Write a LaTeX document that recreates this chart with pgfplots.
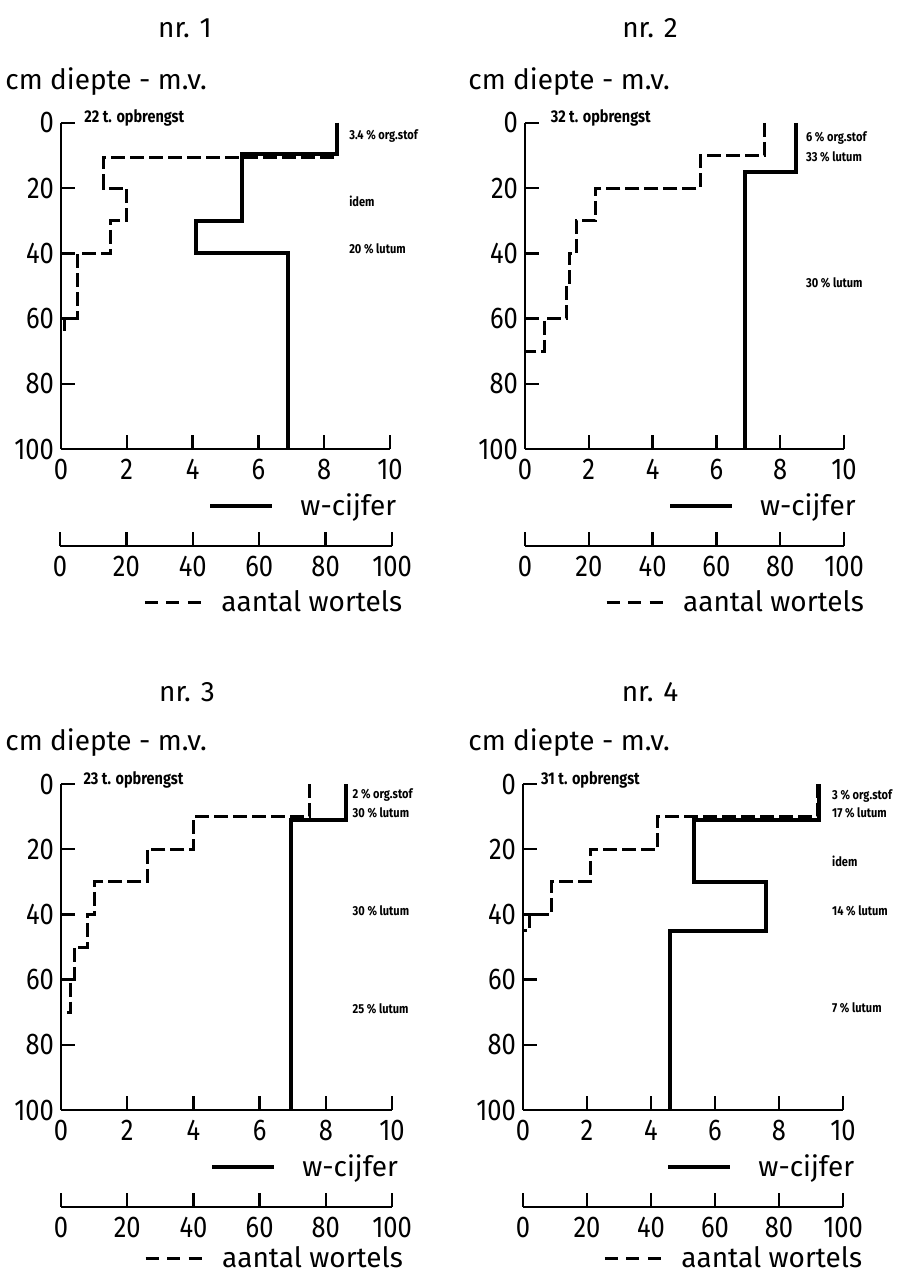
\documentclass[border=0pt]{standalone}
\usepackage{pgfplots}
\usepackage{pgfplotstable}
\pgfplotsset{compat=1.18}
\usepackage{fontspec}
\setmainfont{Fira Sans}[FakeStretch=0.85]
\newfontfamily\wide{Fira Sans}

\newcommand\ticksize{\fontsize{15}{15}\selectfont}
\newcommand\labelsize{\wide\fontsize{14}{15}\selectfont}

% w-cijfer profiles (w, depth in cm)
\pgfplotstableread{
w d
8.4 0
8.4 9.5
5.5 9.5
5.5 30
4.1 30
4.1 40
6.9 40
6.9 100
}\wA
\pgfplotstableread{
w d
8.5 0
8.5 15
6.9 15
6.9 100
}\wB
\pgfplotstableread{
w d
8.6 0
8.6 11
6.95 11
6.95 100
}\wC
\pgfplotstableread{
w d
9.25 0
9.25 11
5.35 11
5.35 30
7.6 30
7.6 45
4.6 45
4.6 100
}\wD

% aantal wortels (n, depth in cm)
\pgfplotstableread{
n d
84 0
84 10.5
13 10.5
13 20
20 20
20 30
15 30
15 40
5 40
5 60
1 60
1 65
}\nA
\pgfplotstableread{
n d
75 0
75 10
55 10
55 20
22 20
22 30
16 30
16 40
14 40
14 50
13 50
13 60
6 60
6 70
0 70
}\nB
\pgfplotstableread{
n d
75 0
75 10
40 10
40 20
26 20
26 30
10 30
10 40
8 40
8 50
4 50
4 60
3 60
3 70
1 70
}\nC
\pgfplotstableread{
n d
92 0
92 10
42 10
42 20
21 20
21 30
9 30
9 40
2 40
2 45
0 45
}\nD

\pgfplotsset{
  profile/.style={
    scale only axis, height=163pt,
    xmin=0, xmax=10, ymin=0, ymax=100, y dir=reverse,
    axis x line=bottom, axis y line=left,
    axis line style={-, line width=1.2pt},
    every tick/.style={black, line width=1.2pt},
    major tick length=7pt, tick align=inside,
    xtick={0,2,...,10}, ytick={0,20,...,100},
    tick label style={font=\ticksize},
    xticklabel style={yshift=-1.5pt},
    /pgf/number format/assume math mode=true,
    clip=false,
    legend style={draw=none, fill=none, inner sep=0pt, anchor=west,
      font=\labelsize, nodes={inner sep=0pt}},
    legend image code/.code={\draw[##1] (0pt,0pt) -- (31pt,0pt); \path (44pt,0pt);},
  },
  wortelaxis/.style={
    scale only axis, height=20pt,
    xmin=0, xmax=100, ymin=0, ymax=1,
    axis x line=bottom, axis y line=none,
    axis line style={-, line width=1.2pt},
    every tick/.style={black, line width=1.2pt},
    major tick length=7pt, tick align=inside,
    xtick={0,20,...,100},
    tick label style={font=\ticksize},
    xticklabel style={yshift=-1.5pt},
    /pgf/number format/assume math mode=true,
    legend style={draw=none, fill=none, inner sep=0pt, anchor=west,
      at={(0.25,-1.425)}, font=\labelsize, nodes={inner sep=0pt}},
    legend image code/.code={\draw[##1, dash pattern=on 6.5pt off 4.25pt] (0pt,0pt) -- (28pt,0pt); \path (37.5pt,0pt);},
  },
  wcijfer/.style={black, line width=2pt},
  wortels/.style={black, line width=1.5pt, dash pattern=on 7pt off 2.5pt},
}
\tikzset{
  note/.style={font=\fontsize{6.5}{7}\selectfont\bfseries, anchor=west, inner sep=0pt},
  opbr/.style={font=\fontsize{8.5}{9}\selectfont\bfseries, anchor=base west, inner sep=0pt},
  ttl/.style={font=\labelsize},
}

\begin{document}
\begin{tikzpicture}
\useasboundingbox (0,0) rectangle (457pt,637pt);

% titles
\node[ttl] at (92.5pt,623pt) {nr. 1};
\node[ttl] at (325pt,623pt) {nr. 2};
\node[ttl] at (93.5pt,291pt) {nr. 3};
\node[ttl] at (325pt,291pt) {nr. 4};
\node[ttl, anchor=west, inner sep=0pt] at (2.5pt,596pt) {cm diepte - m.v.};
\node[ttl, anchor=west, inner sep=0pt] at (234pt,596pt) {cm diepte - m.v.};
\node[ttl, anchor=west, inner sep=0pt] at (2.5pt,265.5pt) {cm diepte - m.v.};
\node[ttl, anchor=west, inner sep=0pt] at (234pt,265.5pt) {cm diepte - m.v.};

% nr. 1
\begin{axis}[profile, at={(30.5pt,412.5pt)}, width=164.5pt,
  legend style={at={(0.447,-0.175)}}]
\addplot[wcijfer] table[x=w, y=d] {\wA};
\addlegendentry{w-cijfer}
\addplot[wortels, forget plot] table[x expr=\thisrow{n}/10, y=d] {\nA};
\node[opbr] at (axis cs:0.7,0) {22 t. opbrengst};
\node[note] at (axis cs:8.75,4) {3.4 \% org.stof};
\node[note] at (axis cs:8.75,24) {idem};
\node[note] at (axis cs:8.75,38.5) {20 \% lutum};
\end{axis}
\begin{axis}[wortelaxis, at={(30pt,364pt)}, width=166pt]
\addlegendimage{wortels}
\addlegendentry{aantal wortels}
\end{axis}

% nr. 2
\begin{axis}[profile, at={(262.5pt,412.5pt)}, width=159.5pt,
  legend style={at={(0.447,-0.175)}}]
\addplot[wcijfer] table[x=w, y=d] {\wB};
\addlegendentry{w-cijfer}
\addplot[wortels, forget plot] table[x expr=\thisrow{n}/10, y=d] {\nB};
\node[opbr] at (axis cs:0.8,0) {32 t. opbrengst};
\node[note] at (axis cs:8.8,4.5) {6 \% org.stof};
\node[note] at (axis cs:8.8,10.5) {33 \% lutum};
\node[note] at (axis cs:8.8,49) {30 \% lutum};
\end{axis}
\begin{axis}[wortelaxis, at={(262.5pt,364pt)}, width=159.5pt]
\addlegendimage{wortels}
\addlegendentry{aantal wortels}
\end{axis}

% nr. 3
\begin{axis}[profile, at={(30.5pt,82pt)}, width=165.5pt,
  legend style={at={(0.45,-0.175)}}]
\addplot[wcijfer] table[x=w, y=d] {\wC};
\addlegendentry{w-cijfer}
\addplot[wortels, forget plot] table[x expr=\thisrow{n}/10, y=d] {\nC};
\node[opbr] at (axis cs:0.67,0) {23 t. opbrengst};
\node[note] at (axis cs:8.8,3.4) {2 \% org.stof};
\node[note] at (axis cs:8.8,8.7) {30 \% lutum};
\node[note] at (axis cs:8.8,39) {30 \% lutum};
\node[note] at (axis cs:8.8,69) {25 \% lutum};
\end{axis}
\begin{axis}[wortelaxis, at={(30.5pt,33.5pt)}, width=165.5pt,
  legend style={at={(0.25,-1.3)}}]
\addlegendimage{wortels}
\addlegendentry{aantal wortels}
\end{axis}

% nr. 4
\begin{axis}[profile, at={(261.5pt,82pt)}, width=160pt,
  legend style={at={(0.447,-0.175)}}]
\addplot[wcijfer] table[x=w, y=d] {\wD};
\addlegendentry{w-cijfer}
\addplot[wortels, forget plot] table[x expr=\thisrow{n}/10, y=d] {\nD};
\node[opbr] at (axis cs:0.55,0) {31 t. opbrengst};
\node[note] at (axis cs:9.65,3.6) {3 \% org.stof};
\node[note] at (axis cs:9.65,8.8) {17 \% lutum};
\node[note] at (axis cs:9.65,23.6) {idem};
\node[note] at (axis cs:9.65,39) {14 \% lutum};
\node[note] at (axis cs:9.65,68.6) {7 \% lutum};
\end{axis}
\begin{axis}[wortelaxis, at={(261.5pt,33.5pt)}, width=160pt,
  legend style={at={(0.25,-1.3)}}]
\addlegendimage{wortels}
\addlegendentry{aantal wortels}
\end{axis}

\end{tikzpicture}
\end{document}
